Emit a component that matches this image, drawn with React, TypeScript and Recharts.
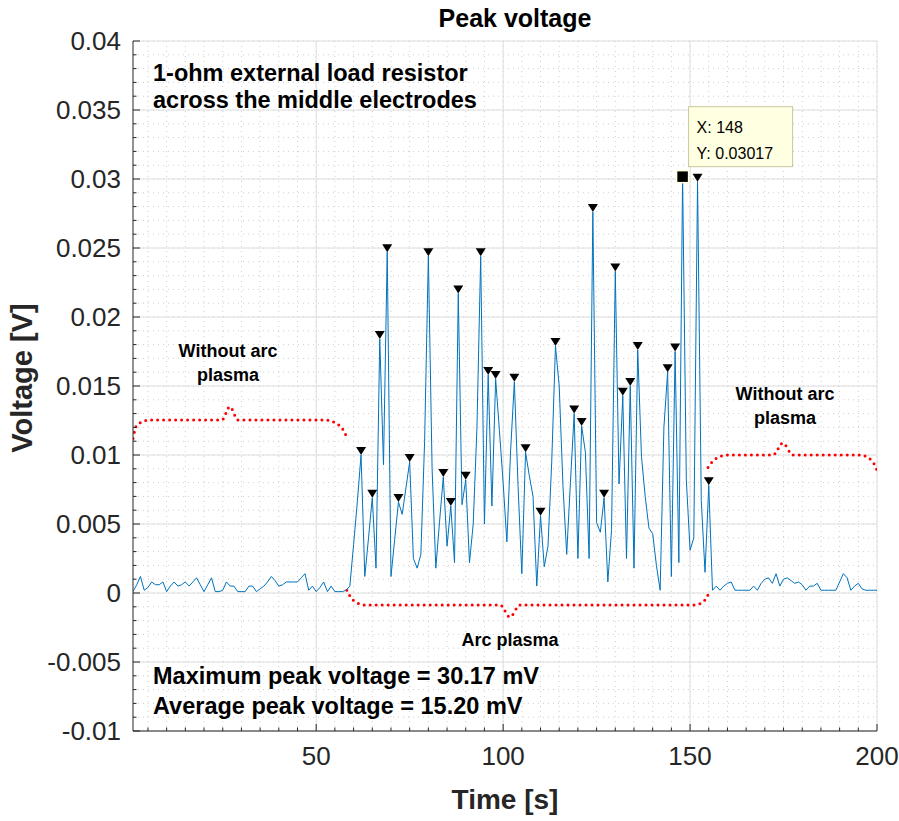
import React from "react";
import { ComposedChart, Line, Scatter, XAxis, YAxis, CartesianGrid } from "recharts";

const FONT = '"Liberation Sans", Arial, Helvetica, sans-serif';
const AX = "#262626";
const BLUE = "#0072BD";
const RED = "#ff0000";

// time axis starts at 1 s, one sample per second
const T_START = 1;

// peak voltage [V], before the arc (t = 1..58 s)
const V_BEFORE = [
  0.0001, 0.0006, 0.0012, 0.0002, 0.0004, 0.0008, 0.0006, 0.0006, 0.0008, 0.0001,
  0.0005, 0.0008, 0.0005, 0.0006, 0.0008, 0.0005, 0.0008, 0.0011, 0.0006, 0.0001,
  0.0006, 0.0011, 0.0001, 0.0001, 0.0002, 0.0008, 0.0005, 0.0005, 0.0001, 0.0001,
  0.0001, 0.0005, 0.0005, 0.0001, 0.0003, 0.0005, 0.0008, 0.0012, 0.0009, 0.0005,
  0.0006, 0.0008, 0.0008, 0.0008, 0.0008, 0.0011, 0.0014, 0.0002, 0.0005, 0.0001,
  0.0004, 0.0008, 0.0001, 0.0005, 0.0001, 0.0001, 0.0001, 0.0002,
];

// arc plasma (t = 59..158 s)
const V_ARC = [
  0.0005, 0.0035, 0.0066, 0.0100, 0.0012, 0.0040, 0.0069, 0.0018, 0.0184, 0.0093,
  0.0247, 0.0012, 0.0039, 0.0066, 0.0057, 0.0076, 0.0095, 0.0025, 0.0018, 0.0028,
  0.0110, 0.0244, 0.0090, 0.0018, 0.0052, 0.0084, 0.0034, 0.0063, 0.0022, 0.0217,
  0.0064, 0.0082, 0.0022, 0.0050, 0.0120, 0.0244, 0.0050, 0.0158, 0.0063, 0.0155,
  0.0118, 0.0080, 0.0037, 0.0103, 0.0153, 0.0077, 0.0014, 0.0102, 0.0085, 0.0070,
  0.0005, 0.0056, 0.0019, 0.0034, 0.0095, 0.0179, 0.0150, 0.0078, 0.0028, 0.0080,
  0.0130, 0.0025, 0.0121, 0.0102, 0.0025, 0.0276, 0.0051, 0.0044, 0.0069, 0.0008,
  0.0046, 0.0233, 0.0079, 0.0143, 0.0025, 0.0150, 0.0018, 0.0176, 0.0099, 0.0070,
  0.0047, 0.0043, 0.0020, 0.0002, 0.0120, 0.0160, 0.0012, 0.0175, 0.0022, 0.03017,
  0.0082, 0.0031, 0.0040, 0.0298, 0.0067, 0.0015, 0.0078, 0.0002, 0.0005, 0.0002,
];

// after the arc (t = 159..200 s)
const V_AFTER = [
  0.0005, 0.0007, 0.0008, 0.0002, 0.0002, 0.0002, 0.0002, 0.0002, 0.0005, 0.0002,
  0.0007, 0.0010, 0.0011, 0.0007, 0.0014, 0.0005, 0.0010, 0.0011, 0.0009, 0.0007,
  0.0008, 0.0006, 0.0002, 0.0005, 0.0005, 0.0007, 0.0002, 0.0002, 0.0002, 0.0002,
  0.0002, 0.0008, 0.0014, 0.0011, 0.0002, 0.0005, 0.0007, 0.0003, 0.0002, 0.0002,
  0.0002, 0.0002,
];

// times of the detected peaks (findpeaks markers)
const PEAK_TIMES = [
  62, 65, 67, 69, 72, 75, 80, 84, 86, 88, 90, 94, 96, 98, 103,
  106, 110, 114, 119, 121, 124, 127, 130, 132, 134, 136, 144, 146, 152, 155,
];
const MAX_TIME = 148;

const X_TICKS = [50, 100, 150, 200];
const X_TICK_LABELS = ["50", "100", "150", "200"];
const Y_TICKS = [-0.01, -0.005, 0, 0.005, 0.01, 0.015, 0.02, 0.025, 0.03, 0.035, 0.04];
const Y_TICK_LABELS = ["-0.01", "-0.005", "0", "0.005", "0.01", "0.015", "0.02", "0.025", "0.03", "0.035", "0.04"];

// red dotted braces (annotation, data coordinates)
const BRACE_LEFT_T = [1, 2.1, 5.5, 24.8, 26.9, 29.1, 52.4, 56.4, 58.5];
const BRACE_LEFT_V = [0.0112, 0.0122, 0.01254, 0.01254, 0.0135, 0.01254, 0.01254, 0.0121, 0.0111];
const BRACE_ARC_T = [58.2, 59.8, 63.0, 99.2, 101.8, 104.5, 151.3, 154.0, 155.3];
const BRACE_ARC_V = [0.0002, -0.0005, -0.00087, -0.00087, -0.00174, -0.00087, -0.00087, -0.0005, 0.0002];
const BRACE_RIGHT_T = [154.8, 156.7, 160.1, 172.2, 174.8, 177.5, 195.4, 198.6, 200];
const BRACE_RIGHT_V = [0.0091, 0.0097, 0.01, 0.01, 0.01087, 0.01, 0.01, 0.0096, 0.0089];

// minor tick / grid positions
const steps = (a: number, b: number, s: number) => {
  const out: number[] = [];
  for (let i = 0; a + i * s <= b + 1e-9; i++) out.push(Math.round((a + i * s) * 1e6) / 1e6);
  return out;
};
const X_MINOR = steps(5, 200, 5);
const Y_MINOR = steps(-0.01, 0.04, 0.001);

const voltage = [...V_BEFORE, ...V_ARC, ...V_AFTER];
const data = voltage.map((v, i) => ({ t: T_START + i, v }));
const peaks = PEAK_TIMES.map((t) => ({ t, v: voltage[t - T_START] }));
const maxPoint = [{ t: MAX_TIME, v: voltage[MAX_TIME - T_START] }];
const toPts = (ts: number[], vs: number[]) => ts.map((t, i) => ({ t, v: vs[i] }));
const braceLeft = toPts(BRACE_LEFT_T, BRACE_LEFT_V);
const braceArc = toPts(BRACE_ARC_T, BRACE_ARC_V);
const braceRight = toPts(BRACE_RIGHT_T, BRACE_RIGHT_V);

const idxOf = (list: number[], v: number) => list.findIndex((m) => Math.abs(m - v) < 1e-9);

// MATLAB-style inward ticks, labels only on bottom/left
const makeTick = (side: "bottom" | "top" | "left" | "right") => (p: any) => {
  const v = p.payload.value;
  const majors = side === "bottom" || side === "top" ? X_TICKS : Y_TICKS;
  const i = idxOf(majors, v);
  const len = i >= 0 ? 7 : 3.5;
  const { x, y } = p;
  let ln;
  if (side === "bottom") ln = <line x1={x} y1={y} x2={x} y2={y - len} stroke={AX} />;
  else if (side === "top") ln = <line x1={x} y1={y} x2={x} y2={y + len} stroke={AX} />;
  else if (side === "left") ln = <line x1={x} y1={y} x2={x + len} y2={y} stroke={AX} />;
  else ln = <line x1={x} y1={y} x2={x - len} y2={y} stroke={AX} />;
  return (
    <g>
      {ln}
      {i >= 0 && side === "bottom" && (
        <text x={x} y={y + 34} textAnchor="middle" fontSize={26} fontFamily={FONT} fill={AX}>
          {X_TICK_LABELS[i]}
        </text>
      )}
      {i >= 0 && side === "left" && (
        <text x={x - 12} y={y + 9} textAnchor="end" fontSize={26} fontFamily={FONT} fill={AX}>
          {Y_TICK_LABELS[i]}
        </text>
      )}
    </g>
  );
};

const Triangle = (p: any) => {
  const { cx, cy } = p;
  return <path d={`M${cx - 5},${cy - 8} L${cx + 5},${cy - 8} L${cx},${cy} Z`} fill="#000" />;
};

const DataTip = (p: any) => {
  const { cx, cy, payload } = p;
  return (
    <g>
      <rect x={cx + 6} y={cy - 70} width={104} height={60} fill="#ffffe1" stroke="#c8c8a0" />
      <text x={cx + 14} y={cy - 44} fontSize={16} fontFamily={FONT} fill="#000">{`X: ${payload.t}`}</text>
      <text x={cx + 14} y={cy - 18} fontSize={16} fontFamily={FONT} fill="#000">{`Y: ${payload.v}`}</text>
      <rect x={cx - 6} y={cy - 6} width={12} height={12} fill="#000" stroke="#ffffe1" strokeWidth={1.5} />
    </g>
  );
};

const braceProps = {
  type: "monotone" as const,
  dataKey: "v",
  stroke: RED,
  strokeWidth: 3,
  strokeDasharray: "0 6",
  strokeLinecap: "round" as const,
  dot: false,
  activeDot: false,
  isAnimationActive: false,
};

export default function App() {
  return (
    <div style={{ position: "absolute", left: 0, top: 0, width: 899, height: 821, background: "#fff" }}>
      <ComposedChart width={899} height={821} data={data} margin={{ top: 41, right: 22, bottom: 0, left: 0 }}>
        <CartesianGrid verticalValues={X_MINOR} horizontalValues={Y_MINOR} stroke="#cfcfcf" strokeDasharray="1 4" fill="none" />
        <CartesianGrid verticalValues={X_TICKS} horizontalValues={Y_TICKS} stroke="#dedede" fill="none" />
        <XAxis dataKey="t" type="number" domain={[1, 200]} allowDataOverflow ticks={X_MINOR} interval={0}
          tickSize={0} tickMargin={0} tickLine={false} height={90} axisLine={{ stroke: AX }} tick={makeTick("bottom")} />
        <XAxis xAxisId="top" orientation="top" dataKey="t" type="number" domain={[1, 200]} allowDataOverflow ticks={X_MINOR}
          interval={0} tickSize={0} tickMargin={0} tickLine={false} height={0} axisLine={{ stroke: AX }} tick={makeTick("top")} />
        <YAxis type="number" domain={[-0.01, 0.04]} allowDataOverflow ticks={Y_MINOR} interval={0}
          tickSize={0} tickMargin={0} tickLine={false} width={133} axisLine={{ stroke: AX }} tick={makeTick("left")} />
        <YAxis yAxisId="right" orientation="right" type="number" domain={[-0.01, 0.04]} allowDataOverflow ticks={Y_MINOR}
          interval={0} tickSize={0} tickMargin={0} tickLine={false} width={0} axisLine={{ stroke: AX }} tick={makeTick("right")} />
        <Line data={braceLeft} {...braceProps} />
        <Line data={braceArc} {...braceProps} />
        <Line data={braceRight} {...braceProps} />
        <Line type="linear" dataKey="v" stroke={BLUE} strokeWidth={1} dot={false} activeDot={false} isAnimationActive={false} />
        <Scatter data={peaks} dataKey="v" shape={Triangle} isAnimationActive={false} />
        <Scatter data={maxPoint} dataKey="v" shape={DataTip} isAnimationActive={false} />
      </ComposedChart>
      <svg width={899} height={821} style={{ position: "absolute", left: 0, top: 0, pointerEvents: "none" }} fontFamily={FONT}>
        <text x={515} y={27} textAnchor="middle" fontSize={25} fontWeight="bold" fill="#000">Peak voltage</text>
        <text x={505} y={809} textAnchor="middle" fontSize={28} fontWeight="bold" fill={AX}>Time [s]</text>
        <text x={32} y={378} transform="rotate(-90 32 378)" textAnchor="middle" fontSize={29} fontWeight="bold" fill={AX}>Voltage [V]</text>
        <g fontSize={23.5} fontWeight="bold" fill="#000">
          <text x={153} y={80.5}>1-ohm external load resistor</text>
          <text x={153} y={108}>across the middle electrodes</text>
          <text x={153} y={684}>Maximum peak voltage = 30.17 mV</text>
          <text x={153} y={714}>Average peak voltage = 15.20 mV</text>
        </g>
        <g fontSize={18} fontWeight="bold" fill="#000" textAnchor="middle">
          <text x={228} y={357}>Without arc</text>
          <text x={228} y={381}>plasma</text>
          <text x={785} y={400}>Without arc</text>
          <text x={785} y={424}>plasma</text>
          <text x={510} y={646}>Arc plasma</text>
        </g>
      </svg>
    </div>
  );
}
